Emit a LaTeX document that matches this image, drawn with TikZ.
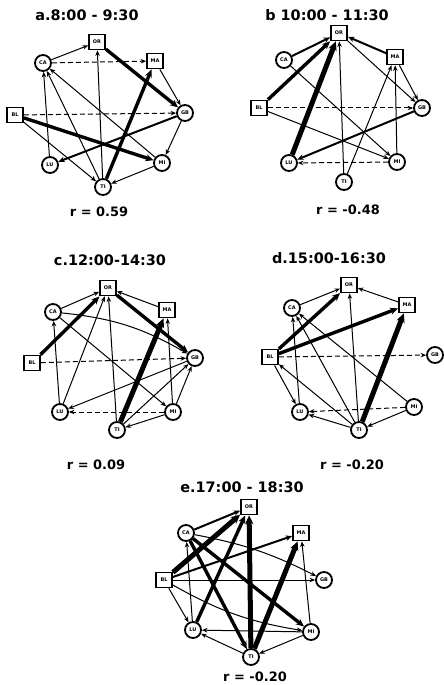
\documentclass[tikz,border=0pt]{standalone}
\usepackage{fontspec}
\setmainfont{DejaVu Sans}
\usetikzlibrary{arrows.meta}
\begin{document}
\begin{tikzpicture}[x=1bp,y=-1bp,
  circ/.style={circle,draw,line width=1.8bp,minimum size=16bp,inner sep=0pt,font=\fontsize{5}{6}\selectfont\bfseries},
  sq/.style={rectangle,draw,line width=1.8bp,minimum width=16bp,minimum height=15bp,inner sep=0pt,font=\fontsize{5}{6}\selectfont\bfseries},
  ttl/.style={font=\fontsize{14.5}{16}\selectfont\bfseries},
  rlab/.style={font=\fontsize{13}{15}\selectfont\bfseries},
  ethin/.style={line width=1bp,-{Stealth[length=5.5bp,width=4.5bp]}},
  emed/.style={line width=2bp,-{Stealth[length=6.5bp,width=5.5bp]}},
  ethick/.style={line width=3.4bp,-{Stealth[length=8bp,width=7bp]}},
  evthick/.style={line width=5bp,-{Stealth[length=9bp,width=8.5bp]}},
  edash/.style={ethin,dash pattern=on 5bp off 3bp}]
\useasboundingbox[fill=white] (0,0) rectangle (444,685);

% ---------- panel a ----------
\node[ttl] (aT) at (87,15) {a.8:00 - 9:30};
\node[sq] (aOR) at (97,42) {OR};
\node[sq] (aMA) at (155,61) {MA};
\node[circ] (aCA) at (43,63) {CA};
\node[sq] (aBL) at (15,115) {BL};
\node[circ] (aGB) at (185,113) {GB};
\node[circ] (aLU) at (50,165) {LU};
\node[circ] (aMI) at (162,163) {MI};
\node[circ] (aTI) at (103,187) {TI};
\node[rlab] (aR) at (99,212) {r = 0.59};
\draw[ethin] (aCA) -- (aOR);
\draw[edash] (aCA) -- (aMA);
\draw[ethick] (aOR) -- (aGB);
\draw[ethin] (aMA) -- (aGB);
\draw[edash] (aBL) -- (aGB);
\draw[ethick] (aBL) -- (aMI);
\draw[ethin] (aBL) -- (aTI);
\draw[ethin] (aLU) -- (aCA);
\draw[ethin] (aTI) -- (aCA);
\draw[ethin] (aMI) -- (aCA);
\draw[ethin] (aTI) -- (aOR);
\draw[ethick] (aTI) -- (aMA);
\draw[emed] (aGB) -- (aLU);
\draw[ethin] (aGB) -- (aMI);
\draw[ethin] (aMI) -- (aTI);

% ---------- panel b ----------
\node[ttl] (bT) at (327,15) {b 10:00 - 11:30};
\node[sq] (bOR) at (339,33) {OR};
\node[circ] (bCA) at (284,60) {CA};
\node[sq] (bMA) at (395,57) {MA};
\node[sq] (bBL) at (259,108) {BL};
\node[circ] (bGB) at (422,108) {GB};
\node[circ] (bLU) at (289,163) {LU};
\node[circ] (bMI) at (397,162) {MI};
\node[circ] (bTI) at (344,182) {TI};
\node[rlab] (bR) at (348,210) {r = -0.48};
\draw[emed] (bCA) -- (bOR);
\draw[emed] (bMA) -- (bOR);
\draw[ethick] (bBL) -- (bOR);
\draw[evthick] (bLU) -- (bOR);
\draw[ethin] (bTI) -- (bOR);
\draw[ethin] (bOR) -- (bGB);
\draw[ethin] (bMA) -- (bGB);
\draw[edash] (bBL) -- (bGB);
\draw[ethin] (bBL) -- (bMI);
\draw[ethin] (bCA) -- (bMI);
\draw[ethin] (bTI) -- (bMA);
\draw[ethin] (bMI) -- (bMA);
\draw[emed] (bGB) -- (bLU);
\draw[edash] (bMI) -- (bLU);

% ---------- panel c ----------
\node[ttl] (cT) at (110,260) {c.12:00-14:30};
\node[sq] (cOR) at (108,288) {OR};
\node[circ] (cCA) at (53,312) {CA};
\node[sq] (cMA) at (167,310) {MA};
\node[sq] (cBL) at (32,363) {BL};
\node[circ] (cGB) at (195,358) {GB};
\node[circ] (cLU) at (60,412) {LU};
\node[circ] (cMI) at (173,412) {MI};
\node[circ] (cTI) at (117,430) {TI};
\node[rlab] (cR) at (96,465) {r = 0.09};
\draw[ethin] (cCA) -- (cOR);
\draw[ethick] (cBL) -- (cOR);
\draw[ethin] (cMA) -- (cOR);
\draw[ethick] (cOR) -- (cGB);
\draw[evthick] (cTI) -- (cMA);
\draw[edash] (cBL) -- (cGB);
\draw[ethin] (cLU) -- (cCA);
\draw[ethin] (cLU) -- (cOR);
\draw[ethin] (cTI) -- (cOR);
\draw[ethin] (cCA) to[bend left=12] (cGB);
\draw[ethin] (cCA) -- (cMI);
\draw[ethin] (cGB) -- (cLU);
\draw[edash] (cMI) -- (cLU);
\draw[ethin] (cMI) -- (cGB);
\draw[ethin] (cTI) -- (cGB);
\draw[ethin] (cMI) -- (cTI);
\draw[ethin] (cMI) -- (cMA);

% ---------- panel d ----------
\node[ttl] (dT) at (329,258) {d.15:00-16:30};
\node[sq] (dOR) at (349,285) {OR};
\node[circ] (dCA) at (292,308) {CA};
\node[sq] (dMA) at (407,305) {MA};
\node[sq] (dBL) at (270,357) {BL};
\node[circ] (dGB) at (435,355) {GB};
\node[circ] (dLU) at (300,412) {LU};
\node[circ] (dMI) at (414,407) {MI};
\node[circ] (dTI) at (359,430) {TI};
\node[rlab] (dR) at (352,465) {r = -0.20};
\draw[ethin] (dCA) -- (dOR);
\draw[ethick] (dBL) -- (dOR);
\draw[ethin] (dMA) -- (dOR);
\draw[ethin] (dTI) -- (dOR);
\draw[ethick] (dBL) -- (dMA);
\draw[evthick] (dTI) -- (dMA);
\draw[edash] (dBL) -- (dGB);
\draw[ethin] (dLU) -- (dCA);
\draw[ethin] (dBL) -- (dLU);
\draw[ethin] (dTI) -- (dLU);
\draw[edash] (dMI) -- (dLU);
\draw[ethin] (dMI) -- (dTI);
\draw[ethin] (dMI) -- (dCA);
\draw[ethin] (dTI) -- (dBL);
\draw[ethin] (dTI) -- (dCA);

% ---------- panel e ----------
\node[ttl] (eT) at (242,487) {e.17:00 - 18:30};
\node[sq] (eOR) at (249,507) {OR};
\node[circ] (eCA) at (186,533) {CA};
\node[sq] (eMA) at (301,533) {MA};
\node[sq] (eBL) at (164,580) {BL};
\node[circ] (eGB) at (324,580) {GB};
\node[circ] (eLU) at (193,630) {LU};
\node[circ] (eMI) at (311,632) {MI};
\node[circ] (eTI) at (251,657) {TI};
\node[rlab] (eR) at (255,677) {r = -0.20};
\draw[emed] (eCA) -- (eOR);
\draw[evthick] (eBL) -- (eOR);
\draw[ethick] (eLU) -- (eOR);
\draw[evthick] (eTI) -- (eOR);
\draw[emed] (eBL) -- (eMA);
\draw[evthick] (eTI) -- (eMA);
\draw[ethin] (eMI) -- (eMA);
\draw[ethin] (eBL) -- (eGB);
\draw[ethin] (eCA) to[bend left=8] (eGB);
\draw[ethick] (eCA) -- (eTI);
\draw[ethick] (eCA) -- (eMI);
\draw[ethin] (eBL) to[bend right=10] (eMI);
\draw[ethin] (eBL) -- (eLU);
\draw[ethin] (eLU) -- (eCA);
\draw[ethin] (eTI) -- (eLU);
\draw[ethin] (eMI) -- (eLU);
\draw[ethin] (eMI) -- (eTI);
\end{tikzpicture}
\end{document}
